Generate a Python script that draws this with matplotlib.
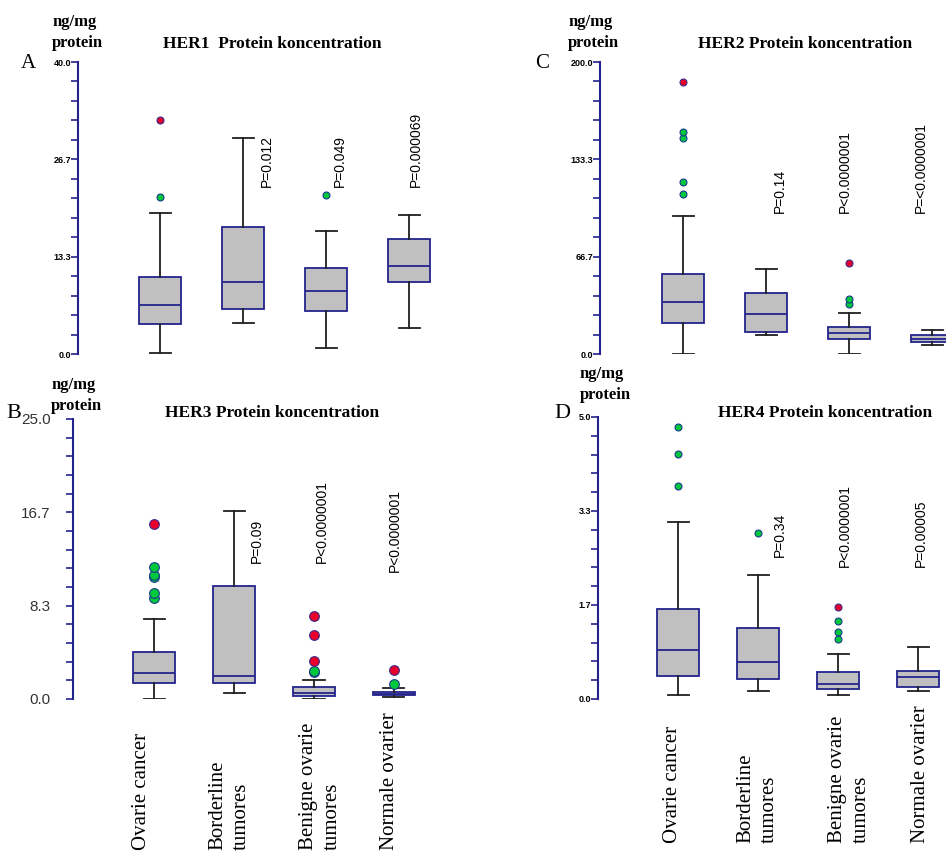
import numpy as np
import matplotlib
matplotlib.use('Agg')
from matplotlib import pyplot as plt
import matplotlib.transforms as mtransforms

W, H = 946, 852

cats = ['Ovarie cancer', 'Borderline\ntumores', 'Benigne ovarie\ntumores', 'Normale ovarier']

# HER1 (A)
her1_lo = [0.1, 4.2, 0.8, 3.6]
her1_q1 = [4.1, 6.2, 5.9, 9.9]
her1_med = [6.7, 9.9, 8.6, 12.1]
her1_q3 = [10.5, 17.4, 11.8, 15.8]
her1_hi = [19.3, 29.6, 16.8, 19.0]
her1_red = [[32.1], [], [], []]
her1_green = [[21.5], [], [21.8], []]
her1_p = ['', 'P=0.012', 'P=0.049', 'P=0.000069']

# HER2 (C)
her2_lo = [0.0, 13.0, 0.0, 6.2]
her2_q1 = [21.2, 15.1, 10.3, 8.2]
her2_med = [35.6, 27.4, 14.4, 10.3]
her2_q3 = [54.8, 41.8, 18.5, 13.0]
her2_hi = [94.5, 58.2, 28.1, 16.4]
her2_red = [[186.3], [], [62.3], []]
her2_green = [[109.6, 117.8, 148.0, 152.0], [], [34.2, 37.7], []]
her2_p = ['', 'P=0.14', 'P<0.0000001', 'P=<0.0000001']

# HER3 (B)
her3_lo = [0.0, 0.54, 0.0, 0.18]
her3_q1 = [1.43, 1.43, 0.24, 0.33]
her3_med = [2.3, 2.05, 0.54, 0.48]
her3_q3 = [4.2, 10.1, 1.07, 0.63]
her3_hi = [7.1, 16.8, 1.7, 0.98]
her3_red = [[15.6], [], [3.4, 5.7, 7.4], [2.6]]
her3_green = [[9.0, 9.5, 10.9, 11.1, 11.8], [], [2.4, 2.5], [1.3]]
her3_p = ['', 'P=0.09', 'P<0.0000001', 'P<0.0000001']

# HER4 (D)
her4_lo = [0.07, 0.14, 0.07, 0.14]
her4_q1 = [0.41, 0.35, 0.17, 0.21]
her4_med = [0.87, 0.65, 0.27, 0.39]
her4_q3 = [1.60, 1.26, 0.48, 0.50]
her4_hi = [3.13, 2.20, 0.80, 0.92]
her4_red = [[], [], [1.63], []]
her4_green = [[3.78, 4.34, 4.82], [2.94], [1.06, 1.19, 1.38], []]
her4_p = ['', 'P=0.34', 'P<0.0000001', 'P=0.00005']

NAVY = '#23238c'
GRAY = '#c0c0c0'
SERIF = 'Liberation Serif'
SANS = 'Liberation Sans'

fig = plt.figure(figsize=(W / 100, H / 100), dpi=100)


def panel(box, ymax, lo, q1, med, q3, hi, red, green, pvals, p_dx, p_y,
          title, title_xy, letter, letter_xy, unit_xy, big_ticks=False,
          msize=5, labels=False, lab_dx=None, lab_y=None):
    left, top, right, bottom, c1, sp = box
    ax = fig.add_axes([left / W, 1 - bottom / H, (right - left) / W, (bottom - top) / H])
    xmin = 1 - (c1 - left) / sp
    ax.set_xlim(xmin, xmin + (right - left) / sp)
    ax.set_ylim(0, ymax)

    stats = []
    for i in range(4):
        stats.append(dict(med=med[i], q1=q1[i], q3=q3[i], whislo=lo[i], whishi=hi[i], fliers=[]))
    ax.bxp(stats, positions=[1, 2, 3, 4], widths=42 / sp, patch_artist=True, showfliers=False,
           boxprops=dict(facecolor=GRAY, edgecolor=NAVY, linewidth=1.3),
           medianprops=dict(color=NAVY, linewidth=1.3),
           whiskerprops=dict(color='#202020', linewidth=1.3),
           capprops=dict(color='#202020', linewidth=1.3))
    for i in range(4):
        if green[i]:
            ax.plot([i + 1] * len(green[i]), green[i], 'o', ms=msize, mfc='#00c83c',
                    mec='#1a3a8a', mew=0.8, clip_on=False)
        if red[i]:
            ax.plot([i + 1] * len(red[i]), red[i], 'o', ms=msize, mfc='#e8002a',
                    mec='#3a2a8a', mew=0.8, clip_on=False)

    for s in ['top', 'right', 'bottom']:
        ax.spines[s].set_visible(False)
    ax.spines['left'].set_color(NAVY)
    ax.spines['left'].set_linewidth(1.5)
    ax.set_xticks([])
    ax.set_yticks(np.linspace(0, ymax, 4))
    ax.set_yticks(np.linspace(0, ymax, 16), minor=True)
    ax.set_yticklabels(['%.1f' % v for v in np.linspace(0, ymax, 4)])
    ax.tick_params(axis='y', which='both', direction='out', length=5, width=1.2, color=NAVY)
    if big_ticks:
        ax.tick_params(axis='y', which='major', pad=11, labelsize=11)
        for t in ax.get_yticklabels():
            t.set_fontfamily(SANS)
            t.set_color('#333333')
    else:
        ax.tick_params(axis='y', which='major', pad=0, labelsize=6.5)
        for t in ax.get_yticklabels():
            t.set_fontfamily(SANS)
            t.set_fontweight('bold')

    for i in range(4):
        if pvals[i]:
            ax.text(i + 1 + p_dx[i], p_y[i], pvals[i], rotation=90, ha='center', va='bottom',
                    fontsize=10, family=SANS)

    fig.text(title_xy[0] / W, 1 - title_xy[1] / H, title, ha='center', va='center',
             fontsize=12.5, fontweight='bold', family=SERIF)
    fig.text(letter_xy[0] / W, 1 - letter_xy[1] / H, letter, ha='center', va='center',
             fontsize=letter_xy[2], family=SERIF)
    fig.text(unit_xy[0] / W, 1 - unit_xy[1] / H, 'ng/mg', ha='left', va='center',
             fontsize=12, fontweight='bold', family=SERIF)
    fig.text(unit_xy[0] / W, 1 - unit_xy[2] / H, 'protein', ha='left', va='center',
             fontsize=12, fontweight='bold', family=SERIF)

    if labels:
        trans = mtransforms.blended_transform_factory(ax.transData, ax.transAxes)
        for i in range(4):
            ax.text(i + 1 + lab_dx[i], lab_y, cats[i], rotation=90, ha='center', va='bottom',
                    multialignment='left', fontsize=15, family=SERIF, linespacing=1.3,
                    transform=trans, clip_on=False)
    return ax


panel((78, 62, 470, 354, 160, 83), 40.0, her1_lo, her1_q1, her1_med, her1_q3, her1_hi,
      her1_red, her1_green, her1_p, [0, 0.29, 0.17, 0.08], [0, 22.9, 22.9, 22.9],
      'HER1  Protein koncentration', (272, 44), 'A', (28, 63, 15), (52, 22, 43))

panel((600, 62, 946, 354, 683, 83), 200.0, her2_lo, her2_q1, her2_med, her2_q3, her2_hi,
      her2_red, her2_green, her2_p, [0, 0.17, -0.05, -0.14], [0, 96.6, 96.6, 96.6],
      'HER2 Protein koncentration', (805, 44), 'C', (542, 63, 15), (568, 22, 43))

panel((73, 419, 470, 699, 154, 80), 25.0, her3_lo, her3_q1, her3_med, her3_q3, her3_hi,
      her3_red, her3_green, her3_p, [0, 0.29, 0.10, 0.01], [0, 12.1, 12.1, 11.3],
      'HER3 Protein koncentration', (272, 413), 'B', (14, 414, 16), (51, 385, 406),
      big_ticks=True, msize=7, labels=True, lab_dx=[-0.16, -0.06, 0.08, -0.05],
      lab_y=(699 - 850) / 280)

panel((598, 417, 946, 699, 678, 80), 5.0, her4_lo, her4_q1, her4_med, her4_q3, her4_hi,
      her4_red, her4_green, her4_p, [0, 0.27, 0.09, 0.04], [0, 2.52, 2.34, 2.34],
      'HER4 Protein koncentration', (825, 413), 'D', (562, 414, 16), (580, 374, 395),
      msize=5, labels=True, lab_dx=[-0.07, -0.01, 0.14, 0.03],
      lab_y=(699 - 843) / 282)

plt.savefig('out.png', dpi=100)
